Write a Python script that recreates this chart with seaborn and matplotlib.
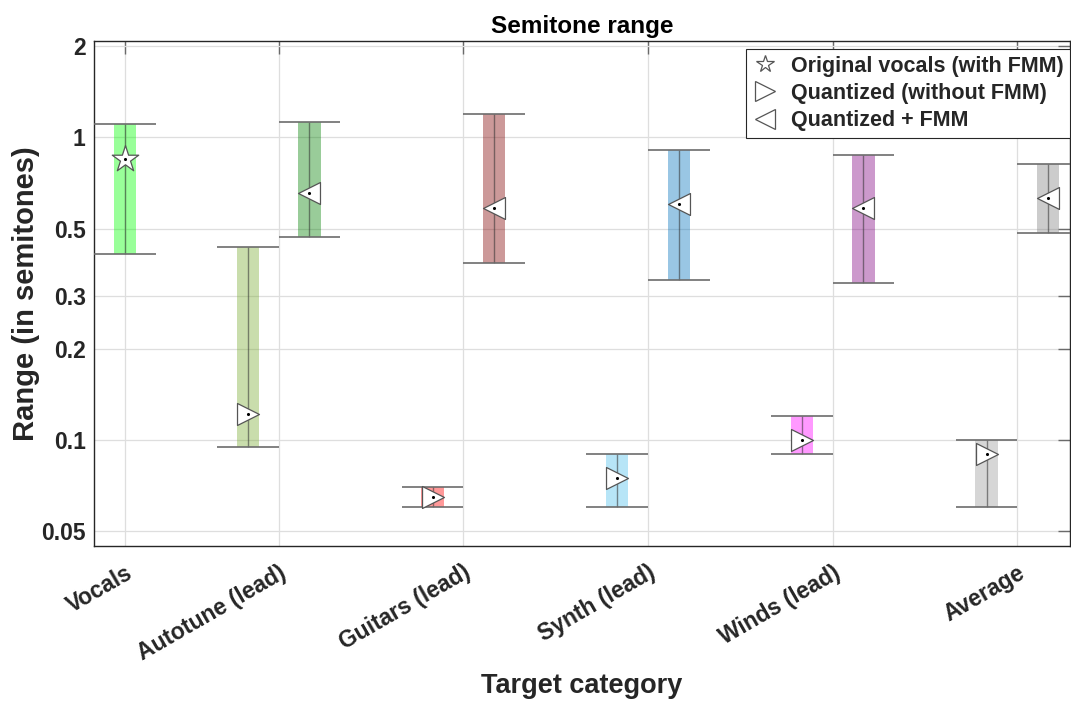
import numpy as np
import pandas as pd
import matplotlib
matplotlib.use("Agg")
import matplotlib.pyplot as plt
from matplotlib.lines import Line2D
import seaborn as sns

# ---- data: semitone range (min / median / max) per target category ----
categories = ["Vocals", "Autotune (lead)", "Guitars (lead)",
              "Synth (lead)", "Winds (lead)", "Average"]

# Original vocals (with FMM)
orig_lo = [0.413]
orig_med = [0.85]
orig_hi = [1.11]

# Quantized (without FMM), categories[1:]
quant_lo = [0.095, 0.060, 0.060, 0.090, 0.060]
quant_med = [0.122, 0.065, 0.075, 0.100, 0.090]
quant_hi = [0.435, 0.070, 0.090, 0.120, 0.100]

# Quantized + FMM, categories[1:]
fmm_lo = [0.470, 0.385, 0.338, 0.330, 0.484]
fmm_med = [0.653, 0.584, 0.604, 0.583, 0.629]
fmm_hi = [1.126, 1.194, 0.911, 0.872, 0.817]

y_ticks = [0.05, 0.1, 0.2, 0.3, 0.5, 1, 2]
y_tick_labels = ["0.05", "0.1", "0.2", "0.3", "0.5", "1", "2"]

series_names = ["Original vocals (with FMM)", "Quantized (without FMM)", "Quantized + FMM"]

# ---- styling ----
orig_colors = [(0.0, 1.0, 0.0)]
quant_colors = [(0.47, 0.67, 0.19), (1.0, 0.0, 0.0), (0.30, 0.75, 0.93),
                (1.0, 0.0, 1.0), (0.60, 0.60, 0.60)]
fmm_colors = [(0.0, 0.5, 0.0), (0.5, 0.0, 0.0), (0.0, 0.447, 0.741),
              (0.5, 0.0, 0.5), (0.50, 0.50, 0.50)]
markers = {series_names[0]: "*", series_names[1]: ">", series_names[2]: "<"}
marker_sizes = {series_names[0]: 400, series_names[1]: 250, series_names[2]: 250}

offset = 1.0 / 6.0
tick_pos = np.array([1 + offset, 2, 3, 4, 5, 6], dtype=float)

rows = []
rows.append(dict(series=series_names[0], x=tick_pos[0], lo=orig_lo[0],
                 med=orig_med[0], hi=orig_hi[0], color=orig_colors[0]))
for i in range(len(quant_lo)):
    rows.append(dict(series=series_names[1], x=tick_pos[i + 1] - offset,
                     lo=quant_lo[i], med=quant_med[i], hi=quant_hi[i],
                     color=quant_colors[i]))
    rows.append(dict(series=series_names[2], x=tick_pos[i + 1] + offset,
                     lo=fmm_lo[i], med=fmm_med[i], hi=fmm_hi[i],
                     color=fmm_colors[i]))
df = pd.DataFrame(rows)

sns.set_theme(style="whitegrid")
plt.rcParams["font.family"] = ["Liberation Sans", "DejaVu Sans"]
plt.rcParams["font.weight"] = "bold"

fig = plt.figure(figsize=(10.71, 7.02), dpi=100)
ax = fig.add_axes([0.0878, 0.2226, 0.9112, 0.719])
ax.set_yscale("log")

grid_c = "#dedede"
ax.grid(True, which="major", color=grid_c, lw=0.9, zorder=0)
ax.grid(False, which="minor")
ax.set_axisbelow(True)

bar_w = 0.12
for _, r in df.iterrows():
    ax.bar(r.x, r.hi - r.lo, bottom=r.lo, width=bar_w, color=r.color,
           alpha=0.4, lw=0, zorder=2)
    ax.vlines(r.x, r.lo, r.hi, color="#303030", alpha=0.55, lw=1.0, zorder=3)
    ax.hlines([r.lo, r.hi], r.x - offset, r.x + offset, color="#6c6c6c",
              lw=1.2, zorder=3)

for name in series_names:
    sub = df[df.series == name]
    sns.scatterplot(data=sub, x="x", y="med", marker=markers[name],
                    s=marker_sizes[name], color="white", edgecolor="#555555",
                    linewidth=0.9, ax=ax, zorder=5, legend=False)
ax.scatter(df.x, df.med, s=5, color="black", zorder=6, lw=0)

ax.set_xlim(1.0, 6.285)
ax.set_ylim(0.0448, 2.083)
ax.set_yticks(y_ticks)
ax.set_yticklabels(y_tick_labels)
ax.minorticks_off()
ax.set_xticks(tick_pos)
ax.set_xticklabels(categories, rotation=30, ha="right", rotation_mode="anchor")

ax.tick_params(axis="both", which="major", direction="in", length=9, width=1,
               color="#6a6a6a", top=True, right=True, labelsize=16.5,
               labelcolor="#262626")
ax.tick_params(axis="x", pad=11)
ax.tick_params(axis="y", pad=6)
for lab in ax.get_xticklabels() + ax.get_yticklabels():
    lab.set_fontweight("bold")

for sp in ax.spines.values():
    sp.set_visible(True)
    sp.set_color("#262626")
    sp.set_linewidth(1.0)

ax.set_title("Semitone range", fontsize=17.5, fontweight="bold",
             color="black", pad=6)
ax.set_xlabel("Target category", fontsize=19.5, fontweight="bold",
              color="#262626", labelpad=6)
ax.set_ylabel("Range (in semitones)", fontsize=21, fontweight="bold",
              color="#262626", labelpad=1)

handles = [Line2D([], [], ls="none", marker=markers[n], ms=m, mfc="white",
                  mec="#555555", mew=0.9)
           for n, m in zip(series_names, [13, 15, 15])]
leg = ax.legend(handles, series_names, loc="upper right",
                bbox_to_anchor=(1.0, 0.984), borderaxespad=0.0,
                frameon=True, fancybox=False, framealpha=1.0,
                prop={"size": 15.5, "weight": "bold"}, handlelength=1.2,
                handletextpad=0.6, labelspacing=0.3, borderpad=0.3)
leg.get_frame().set_edgecolor("#262626")
leg.get_frame().set_linewidth(0.8)

fig.savefig("out.png", dpi=100)
